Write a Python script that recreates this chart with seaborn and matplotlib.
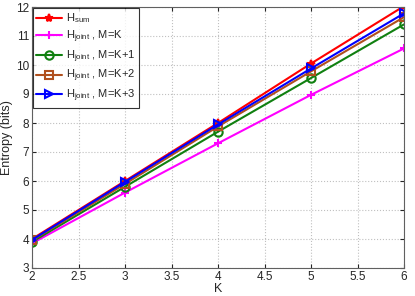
import pandas as pd
import matplotlib
matplotlib.use("Agg")
import matplotlib.pyplot as plt
import seaborn as sns

# K values and entropy (bits)
K = [2, 3, 4, 5, 6]
h_sum = [4.0, 6.0, 8.0, 10.05, 12.03]
h_joint_k = [3.85, 5.6, 7.3, 8.97, 10.57]
h_joint_k1 = [3.9, 5.8, 7.7, 9.55, 11.4]
h_joint_k2 = [3.95, 5.9, 7.88, 9.78, 11.65]
h_joint_k3 = [3.97, 5.97, 7.95, 9.88, 11.78]

sns.set_style("ticks")
plt.rcParams['font.family'] = ['Liberation Sans', 'DejaVu Sans']
plt.rcParams['mathtext.fontset'] = 'custom'
plt.rcParams['mathtext.rm'] = 'Liberation Sans'
plt.rcParams['mathtext.it'] = 'Liberation Sans'

fig = plt.figure(figsize=(4.15, 2.96), dpi=100)
ax = fig.add_axes([32 / 415, 28 / 296, 372 / 415, 261 / 296])

series = [
    (h_sum, r'H$_{\mathrm{sum}}$', 'red', '*', 'red'),
    (h_joint_k, r'H$_{\mathrm{joint}}$ , M=K', 'magenta', '+', 'magenta'),
    (h_joint_k1, r'H$_{\mathrm{joint}}$ , M=K+1', '#108010', 'o', 'none'),
    (h_joint_k2, r'H$_{\mathrm{joint}}$ , M=K+2', '#B0501E', 's', 'none'),
    (h_joint_k3, r'H$_{\mathrm{joint}}$ , M=K+3', 'blue', '>', 'none'),
]
for vals, lab, col, mk, fc in series:
    df = pd.DataFrame({'K': K, 'H': vals})
    sns.lineplot(data=df, x='K', y='H', ax=ax, color=col, marker=mk, label=lab,
                 linewidth=1.5, markersize=6, markerfacecolor=fc,
                 markeredgecolor=col, markeredgewidth=1.5)

ax.set_xlim(2, 6)
ax.set_ylim(3, 12)
ax.set_xticks([2, 2.5, 3, 3.5, 4, 4.5, 5, 5.5, 6])
ax.set_xticklabels(['2', '2.5', '3', '3.5', '4', '4.5', '5', '5.5', '6'])
ax.set_yticks(range(3, 13))
ax.grid(True, linestyle=':', color='#c0c0c0', linewidth=0.8)
ax.tick_params(labelsize=8.5, direction='in', length=3, top=True, right=True,
               pad=2)
for s in ax.spines.values():
    s.set_color('#606060')
    s.set_linewidth(0.8)
ax.set_xlabel('K', fontsize=9, labelpad=0)
ax.set_ylabel('Entropy (bits)', fontsize=9, labelpad=2)

leg = ax.legend(loc='upper left', fontsize=8, frameon=True, fancybox=False,
                edgecolor='black', handlelength=2.3, borderaxespad=0.1,
                labelspacing=0.3, handletextpad=0.4, borderpad=0.3)
leg.get_frame().set_linewidth(0.8)

fig.savefig('out.png', dpi=100)
